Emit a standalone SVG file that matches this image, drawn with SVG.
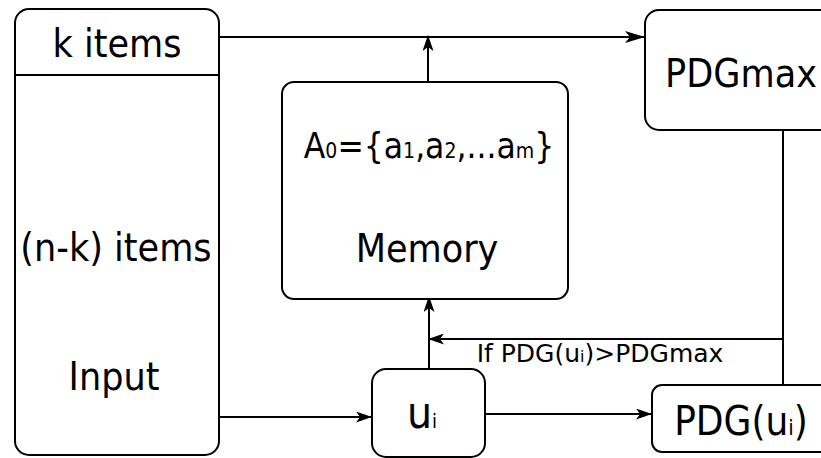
<svg xmlns="http://www.w3.org/2000/svg" width="821" height="458" viewBox="0 0 821 458">
<defs>
<marker id="arr" viewBox="0 0 20 12" refX="19" refY="6" markerWidth="20" markerHeight="12" markerUnits="userSpaceOnUse" orient="auto">
<path d="M0,0 L20,6 L0,12 L5,6 Z" fill="#000"/>
</marker>
<marker id="arrs" viewBox="0 0 16 11" refX="15" refY="5.5" markerWidth="16" markerHeight="11" markerUnits="userSpaceOnUse" orient="auto">
<path d="M0,0 L16,5.5 L0,11 L4,5.5 Z" fill="#000"/>
</marker>
</defs>
<style>
.box{fill:#fff;stroke:#000;stroke-width:2}
.t{font-family:"DejaVu Sans Condensed","DejaVu Sans",sans-serif;fill:#000;text-anchor:middle}
.c{fill:none;stroke:#000;stroke-width:2}
</style>
<rect width="821" height="458" fill="#fff"/>
<g id="connectors">
<path class="c" d="M219,37 H644" stroke-width="2.5" marker-end="url(#arr)"/>
<path class="c" d="M428,82 V36" marker-end="url(#arrs)"/>
<path class="c" d="M783,130 V385"/>
<path class="c" d="M783,339 H429" marker-end="url(#arrs)"/>
<path class="c" d="M429,369 V297" marker-end="url(#arrs)"/>
<path class="c" d="M219,417 H371" marker-end="url(#arrs)"/>
<path class="c" d="M485,414 H651" marker-end="url(#arrs)"/>
<text class="t" x="600" y="362" font-size="25" style="font-family:'DejaVu Sans',sans-serif">If PDG(u<tspan font-size="16">i</tspan>)&gt;PDGmax</text>
</g>
<g id="input">
<rect class="box" x="15" y="9" width="204" height="446" rx="14"/>
<line x1="15" y1="75" x2="219" y2="75" stroke="#000" stroke-width="2"/>
<text class="t" x="117" y="57" font-size="39">k items</text>
<text class="t" x="116" y="261" font-size="39">(n-k) items</text>
<text class="t" x="114" y="390" font-size="39">Input</text>
</g>
<g id="memory">
<rect class="box" x="282" y="82" width="286" height="217" rx="12"/>
<text class="t" x="429" y="158" font-size="35">A<tspan font-size="21">0</tspan>={a<tspan font-size="21">1</tspan>,a<tspan font-size="21">2</tspan>,...a<tspan font-size="21">m</tspan>}</text>
<text class="t" x="427" y="262" font-size="39">Memory</text>
</g>
<g id="pdgmax">
<rect class="box" x="645" y="10" width="200" height="120" rx="14"/>
<text class="t" x="741" y="87" font-size="39">PDGmax</text>
</g>
<g id="ui">
<rect class="box" x="372" y="369" width="113" height="88" rx="14" stroke-width="3"/>
<text class="t" x="422" y="428" font-size="44">u<tspan font-size="20">i</tspan></text>
</g>
<g id="pdgui">
<rect class="box" x="652" y="385" width="200" height="67" rx="10"/>
<text class="t" x="741" y="435" font-size="40">PDG(u<tspan font-size="22">i</tspan>)</text>
</g>
</svg>
